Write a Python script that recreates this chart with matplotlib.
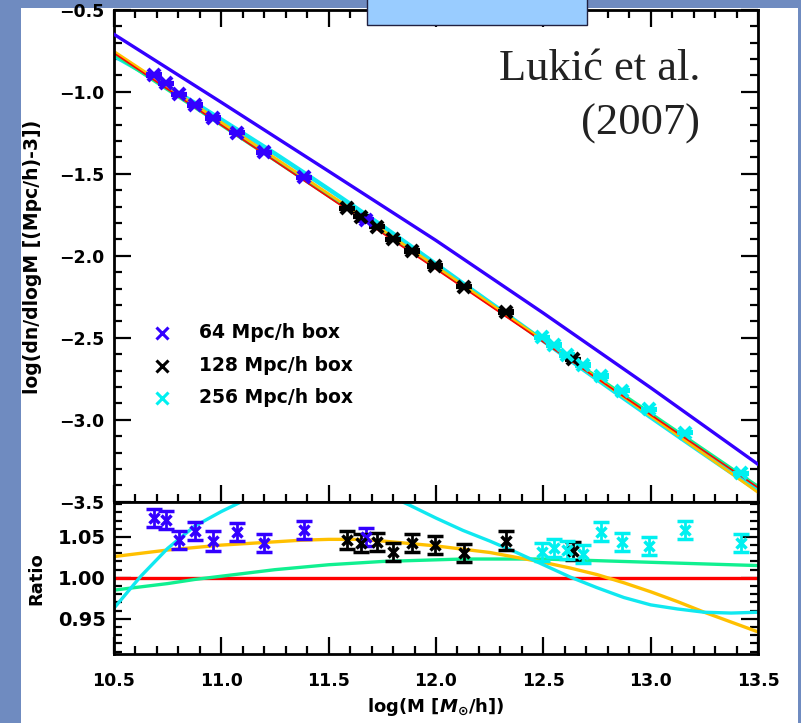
import numpy as np
import matplotlib.pyplot as plt
from matplotlib.patches import Rectangle
from matplotlib.ticker import MultipleLocator

# mass grid for the fitted curves, log10(M [Msun/h])
logm_grid = [10.5, 10.625, 10.75, 10.875, 11.0, 11.125, 11.25, 11.375, 11.5,
             11.625, 11.75, 11.875, 12.0, 12.125, 12.25, 12.375, 12.5,
             12.625, 12.75, 12.875, 13.0, 13.125, 13.25, 13.375, 13.5]

# reference fit (red), log(dn/dlogM)
ref_fit = [-0.765, -0.875, -0.985, -1.094, -1.204, -1.314, -1.423, -1.533, -1.643,
           -1.753, -1.862, -1.972, -2.082, -2.193, -2.304, -2.415, -2.526,
           -2.637, -2.748, -2.859, -2.970, -3.081, -3.192, -3.303, -3.414]

# other fits as ratio to the reference
ratio_orange = [1.026, 1.030, 1.034, 1.037, 1.040, 1.042, 1.044, 1.046, 1.047,
                1.047, 1.045, 1.042, 1.039, 1.035, 1.031, 1.025, 1.019,
                1.012, 1.004, 0.994, 0.983, 0.971, 0.958, 0.946, 0.934]
ratio_green = [0.985, 0.989, 0.993, 0.998, 1.002, 1.006, 1.010, 1.013, 1.016,
               1.018, 1.020, 1.021, 1.022, 1.023, 1.023, 1.023, 1.023,
               1.022, 1.021, 1.020, 1.019, 1.018, 1.017, 1.016, 1.015]
ratio_cyan = [0.963, 1.002, 1.036, 1.063, 1.081, 1.097, 1.110, 1.116, 1.118,
              1.114, 1.104, 1.089, 1.073, 1.058, 1.045, 1.031, 1.016,
              1.001, 0.988, 0.976, 0.967, 0.962, 0.958, 0.957, 0.958]

# Press-Schechter (blue line)
ps_logm = [10.5, 11.0, 11.5, 12.0, 12.5, 13.0, 13.5]
ps_fit = [-0.650, -1.065, -1.485, -1.907, -2.350, -2.805, -3.272]

# simulation boxes: mass, log(dn/dlogM), ratio, ratio error
m64 = [10.688, 10.742, 10.803, 10.877, 10.960, 11.073, 11.200, 11.383, 11.672]
f64 = [-0.898, -0.949, -1.016, -1.081, -1.162, -1.250, -1.370, -1.522, -1.782]
r64 = [1.0735, 1.0707, 1.046, 1.057, 1.045, 1.056, 1.042, 1.0585, 1.050]
e64 = [0.011, 0.011, 0.011, 0.011, 0.012, 0.011, 0.011, 0.011, 0.011]

m128 = [11.587, 11.649, 11.727, 11.800, 11.887, 11.995, 12.130, 12.325, 12.640]
f128 = [-1.711, -1.762, -1.823, -1.900, -1.971, -2.063, -2.189, -2.345, -2.632]
r128 = [1.046, 1.043, 1.044, 1.031, 1.042, 1.040, 1.030, 1.0455, 1.033]
e128 = [0.011, 0.011, 0.011, 0.011, 0.011, 0.011, 0.011, 0.012, 0.011]

m256 = [12.492, 12.550, 12.612, 12.686, 12.768, 12.868, 12.992, 13.160, 13.422]
f256 = [-2.498, -2.545, -2.606, -2.668, -2.734, -2.823, -2.937, -3.079, -3.327]
r256 = [1.032, 1.037, 1.034, 1.029, 1.0565, 1.044, 1.039, 1.058, 1.042]
e256 = [0.011, 0.011, 0.011, 0.011, 0.012, 0.011, 0.011, 0.011, 0.011]

boxes = [
    ('64 Mpc/h box', '#3300ff', m64, f64, r64, e64),
    ('128 Mpc/h box', 'black', m128, f128, r128, e128),
    ('256 Mpc/h box', '#00f0f0', m256, f256, r256, e256),
]

c_orange = '#ffc000'
c_green = '#10f090'
c_cyan = '#10e8f0'
c_red = '#ff0000'
c_blue = '#3300ff'

plt.rcParams['font.family'] = 'DejaVu Sans'
plt.rcParams['font.weight'] = 'bold'

W, H = 801, 723
fig = plt.figure(figsize=(W / 100, H / 100), dpi=100)

# page decoration
strip = '#6f8bc0'
fig.add_artist(Rectangle((0, 0), 21 / W, 1, transform=fig.transFigure,
                         facecolor=strip, edgecolor='none', zorder=-5))
fig.add_artist(Rectangle((0, 1 - 8 / H), 1, 8 / H, transform=fig.transFigure,
                         facecolor=strip, edgecolor='none', zorder=-5))
fig.add_artist(Rectangle((798 / W, 0), 3 / W, 1, transform=fig.transFigure,
                         facecolor=strip, edgecolor='none', zorder=-5))
fig.add_artist(Rectangle((367 / W, 1 - 25 / H), 220 / W, 30 / H, transform=fig.transFigure,
                         facecolor='#99ccff', edgecolor='#202040', lw=1.0, zorder=20))

x0, x1 = 114, 758
ax = fig.add_axes([x0 / W, 1 - 501.7 / H, (x1 - x0) / W, 492 / H])
axr = fig.add_axes([x0 / W, 1 - 654 / H, (x1 - x0) / W, 152.3 / H])

x = np.array(logm_grid)
ref = np.array(ref_fit)

# top panel: mass functions
ax.plot(ps_logm, ps_fit, color=c_blue, lw=2.4, zorder=3)
ax.plot(x, ref + np.log10(ratio_cyan), color=c_cyan, lw=3.2, zorder=2)
ax.plot(x, ref + np.log10(ratio_green), color=c_green, lw=2.4, zorder=2)
ax.plot(x, ref + np.log10(ratio_orange), color=c_orange, lw=2.0, zorder=2)
ax.plot(x, ref, color=c_red, lw=1.2, zorder=2)

for label, col, m, f, r, e in boxes:
    r = np.array(r)
    yerr = np.log10(1 + np.array(e) / r)
    ax.errorbar(m, f, yerr=yerr, fmt='x', color=col, ms=9, mew=3,
                elinewidth=2, capsize=5.5, capthick=2.8, zorder=4)

ax.set_xlim(10.5, 13.5)
ax.set_ylim(-3.5, -0.5)
ax.yaxis.set_major_locator(MultipleLocator(0.5))
ax.yaxis.set_minor_locator(MultipleLocator(0.1))
ax.xaxis.set_major_locator(MultipleLocator(0.5))
ax.xaxis.set_minor_locator(MultipleLocator(0.1))
ax.yaxis.set_major_formatter(plt.FuncFormatter(lambda v, p: f'{v:.1f}'.replace('-', '\u2212')))
ax.tick_params(which='both', direction='in', top=True, right=True, width=1.6,
               labelbottom=False, labelsize=12.5, pad=7)
ax.tick_params(which='major', length=12)
ax.tick_params(which='minor', length=6)

# legend drawn by hand
leg_y = [0.343, 0.276, 0.211]
for (label, col, *_), yy in zip(boxes, leg_y):
    ax.plot([0.0745], [yy], 'x', color=col, ms=8, mew=2.2, transform=ax.transAxes, zorder=5)
    ax.text(0.132, yy, label, transform=ax.transAxes, fontsize=13.5,
            fontweight='bold', va='center', ha='left')

# bottom panel: ratios
axr.plot(x, [1.0] * len(x), color=c_red, lw=2.4, zorder=2)
axr.plot(x, ratio_green, color=c_green, lw=2.4, zorder=2)
axr.plot(x, ratio_orange, color=c_orange, lw=2.4, zorder=2)
axr.plot(x, ratio_cyan, color=c_cyan, lw=2.4, zorder=2)
for label, col, m, f, r, e in boxes:
    axr.errorbar(m, r, yerr=e, fmt='x', color=col, ms=6.5, mew=2.5,
                 elinewidth=2, capsize=6, capthick=2.2, zorder=4)

axr.set_xlim(10.5, 13.5)
axr.set_ylim(0.907, 1.093)
axr.yaxis.set_major_locator(MultipleLocator(0.05))
axr.yaxis.set_minor_locator(MultipleLocator(0.01))
axr.xaxis.set_major_locator(MultipleLocator(0.5))
axr.xaxis.set_minor_locator(MultipleLocator(0.1))
axr.yaxis.set_major_formatter(plt.FuncFormatter(lambda v, p: f'{v:.2f}'))
axr.tick_params(which='both', direction='in', top=False, right=True, width=1.6)
axr.tick_params(axis='y', labelsize=14, pad=6)
axr.tick_params(axis='x', labelsize=12.5, pad=13)
axr.tick_params(which='major', length=12)
axr.tick_params(which='minor', length=6)

for a in (ax, axr):
    for s in a.spines.values():
        s.set_linewidth(2)

fig.text(33 / W, 1 - 257 / H, 'log(dn/dlogM [(Mpc/h)-3])', rotation=90,
         ha='center', va='center', fontsize=13.5, fontweight='bold')
fig.text(36 / W, 1 - 579 / H, 'Ratio', rotation=90,
         ha='center', va='center', fontsize=13, fontweight='bold')
fig.text(436 / W, 1 - 707 / H, r'log(M [$\mathbfit{M}_{\odot}$/h])',
         ha='center', va='center', fontsize=13, fontweight='bold')

fig.text(700 / W, 1 - 80 / H, 'Lukić et al.', ha='right', va='baseline',
         fontsize=32, family='Liberation Serif', fontweight='normal', color='#222222')
fig.text(700 / W, 1 - 135 / H, '(2007)', ha='right', va='baseline',
         fontsize=32, family='Liberation Serif', fontweight='normal', color='#222222')

fig.savefig('out.png', dpi=100, facecolor='white')
